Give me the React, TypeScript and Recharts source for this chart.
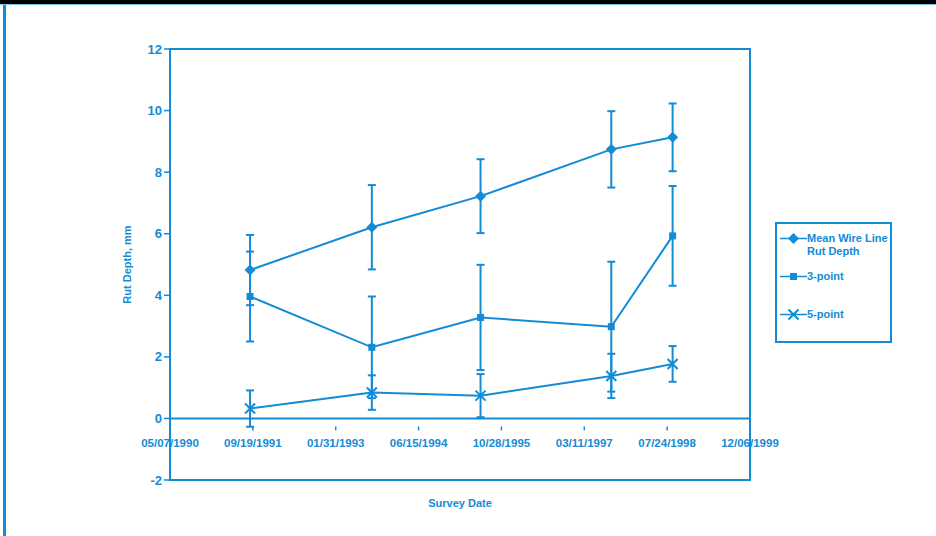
import { LineChart, Line, XAxis, YAxis, ErrorBar, ReferenceLine, ReferenceArea } from 'recharts'

const surveyDates = ['1991-09-02', '1993-09-06', '1995-06-24', '1997-08-21', '1998-08-26']
const meanWireLine = [4.82, 6.21, 7.22, 8.74, 9.13]
const meanWireErr = [1.14, 1.37, 1.2, 1.24, 1.1]
const threePoint = [3.96, 2.31, 3.28, 2.98, 5.93]
const threePointErr = [1.46, 1.65, 1.71, 2.11, 1.62]
const fivePoint = [0.32, 0.84, 0.74, 1.38, 1.77]
const fivePointErr = [0.59, 0.56, 0.7, 0.72, 0.58]
const xTickLabels = ['05/07/1990', '09/19/1991', '01/31/1993', '06/15/1994', '10/28/1995', '03/11/1997', '07/24/1998', '12/06/1999']
const yTicks = [-2, 0, 2, 4, 6, 8, 10, 12]

const BLUE = '#138bd6'
const FONT = '"Liberation Sans", Arial, sans-serif'
const DAY = 86400000

// days since the first axis date
const origin = Date.UTC(1990, 4, 7)
const isoToDays = (s: string) => {
    const [y, m, d] = s.split('-').map(Number)
    return Math.round((Date.UTC(y, m - 1, d) - origin) / DAY)
}
const mdyToDays = (s: string) => {
    const [m, d, y] = s.split('/').map(Number)
    return Math.round((Date.UTC(y, m - 1, d) - origin) / DAY)
}
const xTicks = xTickLabels.map(mdyToDays)
const labelFor = new Map(xTicks.map((t, i) => [t, xTickLabels[i]]))

const data = surveyDates.map((d, i) => ({
    day: isoToDays(d),
    mean: meanWireLine[i],
    meanErr: meanWireErr[i],
    three: threePoint[i],
    threeErr: threePointErr[i],
    five: fivePoint[i],
    fiveErr: fivePointErr[i],
}))

const W = 936
const H = 536
const margin = { top: 49, right: 186, left: 110, bottom: 26 }
const X_AXIS_H = 30
const Y_MIN = -2
const Y_MAX = 12
const plotH = H - margin.top - margin.bottom - X_AXIS_H
const zeroShift = (plotH * (0 - Y_MIN)) / (Y_MAX - Y_MIN)

const Diamond = ({ cx, cy }: any) =>
    cx == null ? null : <path d={`M${cx},${cy - 5.5}L${cx + 5.5},${cy}L${cx},${cy + 5.5}L${cx - 5.5},${cy}Z`} fill={BLUE} />
const Square = ({ cx, cy }: any) =>
    cx == null ? null : <rect x={cx - 3.5} y={cy - 3.5} width={7} height={7} fill={BLUE} />
const Cross = ({ cx, cy }: any) =>
    cx == null ? null : (
        <path d={`M${cx - 5},${cy - 5}L${cx + 5},${cy + 5}M${cx - 5},${cy + 5}L${cx + 5},${cy - 5}`} stroke={BLUE} strokeWidth={2} />
    )

// x axis sits on the zero line, not at the bottom of the plot
const DateTick = ({ x, y, payload }: any) => {
    const zy = y - zeroShift
    return (
        <g>
            <line x1={x} x2={x} y1={zy} y2={zy + 4} stroke={BLUE} strokeWidth={1.5} />
            <text x={x} y={zy + 21} textAnchor="middle" fill={BLUE} fontSize={11.5} fontWeight="bold" fontFamily={FONT}>
                {labelFor.get(payload.value) ?? ''}
            </text>
        </g>
    )
}

const legendItems = [
    { label: ['Mean Wire Line', 'Rut Depth'], marker: 'diamond', top: 8 },
    { label: ['3-point'], marker: 'square', top: 46 },
    { label: ['5-point'], marker: 'cross', top: 84 },
]

function LegendBox() {
    return (
        <div
            style={{
                position: 'absolute',
                left: 775,
                top: 222,
                width: 113,
                height: 117,
                border: `2px solid ${BLUE}`,
                fontFamily: FONT,
                fontSize: 11,
                fontWeight: 'bold',
                color: BLUE,
                lineHeight: '13px',
            }}
        >
            {legendItems.map((it) => (
                <div key={it.marker} style={{ position: 'absolute', left: 3, top: it.top, display: 'flex' }}>
                    <svg width={27} height={13} style={{ flex: 'none' }}>
                        <line x1={0} x2={27} y1={6.5} y2={6.5} stroke={BLUE} strokeWidth={1.5} />
                        {it.marker === 'diamond' && <Diamond cx={13.5} cy={6.5} />}
                        {it.marker === 'square' && <Square cx={13.5} cy={6.5} />}
                        {it.marker === 'cross' && <Cross cx={13.5} cy={6.5} />}
                    </svg>
                    <div>
                        {it.label.map((l) => (
                            <div key={l} style={{ whiteSpace: 'nowrap' }}>{l}</div>
                        ))}
                    </div>
                </div>
            ))}
        </div>
    )
}

export default function App() {
    return (
        <div style={{ position: 'relative', width: W, height: H, background: '#fff', overflow: 'hidden' }}>
            <style>{'body{margin:0}'}</style>
            <div style={{ position: 'absolute', left: 0, top: 0, width: W, height: 4, background: '#000' }} />
            <div style={{ position: 'absolute', left: 0, top: 4, width: W, height: 1, background: '#7fc6ee' }} />
            <div style={{ position: 'absolute', left: 3, top: 5, width: 3, height: H, background: BLUE }} />
            <LineChart width={W} height={H} data={data} margin={margin}>
                <ReferenceArea
                    x1={xTicks[0]}
                    x2={xTicks[xTicks.length - 1]}
                    y1={Y_MIN}
                    y2={Y_MAX}
                    fill="none"
                    stroke={BLUE}
                    strokeWidth={2}
                    strokeOpacity={1}
                    fillOpacity={0}
                />
                <ReferenceLine y={0} stroke={BLUE} strokeWidth={2} />
                <XAxis
                    dataKey="day"
                    type="number"
                    domain={[xTicks[0], xTicks[xTicks.length - 1]]}
                    ticks={xTicks}
                    interval={0}
                    height={X_AXIS_H}
                    axisLine={false}
                    tickLine={false}
                    tick={<DateTick />}
                    label={{
                        value: 'Survey Date',
                        position: 'insideBottom',
                        offset: 3,
                        fill: BLUE,
                        fontSize: 11,
                        fontWeight: 'bold',
                        fontFamily: FONT,
                    }}
                />
                <YAxis
                    type="number"
                    domain={[Y_MIN, Y_MAX]}
                    ticks={yTicks}
                    interval={0}
                    width={60}
                    stroke={BLUE}
                    axisLine={{ stroke: BLUE, strokeWidth: 2 }}
                    tickLine={{ stroke: BLUE, strokeWidth: 1.5 }}
                    tickSize={6}
                    tick={{ fill: BLUE, fontSize: 13, fontWeight: 'bold', fontFamily: FONT }}
                    label={{
                        value: 'Rut Depth, mm',
                        angle: -90,
                        position: 'insideLeft',
                        offset: 17,
                        style: { textAnchor: 'middle' },
                        fill: BLUE,
                        fontSize: 11,
                        fontWeight: 'bold',
                        fontFamily: FONT,
                    }}
                />
                <Line dataKey="mean" stroke={BLUE} strokeWidth={2} dot={<Diamond />} activeDot={false} isAnimationActive={false}>
                    <ErrorBar dataKey="meanErr" direction="y" width={4} stroke={BLUE} strokeWidth={2} />
                </Line>
                <Line dataKey="three" stroke={BLUE} strokeWidth={2} dot={<Square />} activeDot={false} isAnimationActive={false}>
                    <ErrorBar dataKey="threeErr" direction="y" width={4} stroke={BLUE} strokeWidth={2} />
                </Line>
                <Line dataKey="five" stroke={BLUE} strokeWidth={2} dot={<Cross />} activeDot={false} isAnimationActive={false}>
                    <ErrorBar dataKey="fiveErr" direction="y" width={4} stroke={BLUE} strokeWidth={2} />
                </Line>
            </LineChart>
            <LegendBox />
        </div>
    )
}
